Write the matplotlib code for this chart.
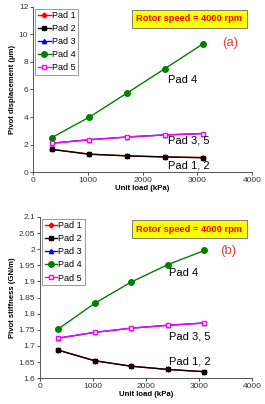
import matplotlib.pyplot as plt

load = [340, 1030, 1720, 2410, 3100]

disp_pad1 = [1.65, 1.30, 1.18, 1.10, 1.05]
disp_pad2 = [1.65, 1.30, 1.18, 1.10, 1.05]
disp_pad3 = [2.10, 2.35, 2.55, 2.70, 2.80]
disp_pad4 = [2.50, 4.00, 5.75, 7.52, 9.30]
disp_pad5 = [2.10, 2.35, 2.55, 2.70, 2.80]

stiff_pad1 = [1.687, 1.654, 1.637, 1.627, 1.620]
stiff_pad2 = [1.687, 1.654, 1.637, 1.627, 1.620]
stiff_pad3 = [1.724, 1.742, 1.755, 1.764, 1.771]
stiff_pad4 = [1.752, 1.832, 1.898, 1.952, 1.996]
stiff_pad5 = [1.724, 1.742, 1.755, 1.764, 1.771]

pads = ["Pad 1", "Pad 2", "Pad 3", "Pad 4", "Pad 5"]
styles = [dict(c='red', marker='D', ms=2.5, mfc='red'),
          dict(c='black', marker='s', ms=2.5, mfc='black'),
          dict(c='blue', marker='^', ms=3, mfc='blue'),
          dict(c='green', marker='o', ms=4, mfc='green'),
          dict(c='magenta', marker='s', ms=3, mfc='white')]

plt.rcParams['font.family'] = ['Liberation Sans', 'DejaVu Sans']
fig = plt.figure(figsize=(2.65, 4.04), dpi=100)
ax1 = fig.add_axes([0.125, 0.574, 0.826, 0.409])
ax2 = fig.add_axes([0.151, 0.064, 0.800, 0.399])


def draw(ax, series, ylim, yticks, ylabel, tag, tagpos, boxpos, labels):
    for name, y, st in zip(pads, series, styles):
        ax.plot(load, y, label=name, linewidth=1, zorder=3, **st)
    ax.set_xlim(0, 4000)
    ax.set_xticks([0, 1000, 2000, 3000, 4000])
    ax.set_ylim(*ylim)
    ax.set_yticks(yticks)
    ax.set_xlabel("Unit load (kPa)", fontsize=5.6, fontweight='bold', labelpad=1)
    ax.set_ylabel(ylabel, fontsize=5.6, fontweight='bold', labelpad=2)
    ax.tick_params(labelsize=6, length=2, width=0.6, pad=1.5, colors='#333333')
    for s in ['top', 'right']:
        ax.spines[s].set_visible(False)
    for s in ['left', 'bottom']:
        ax.spines[s].set_color('#555555')
        ax.spines[s].set_linewidth(0.7)
    leg = ax.legend(loc='upper left', bbox_to_anchor=(0.01, 0.99), fontsize=6.5,
                    fancybox=False, framealpha=1, edgecolor='#888888',
                    handlelength=1.4, handletextpad=0.1, borderpad=0.3,
                    labelspacing=0.45, borderaxespad=0)
    leg.get_frame().set_linewidth(0.6)
    ax.text(boxpos[0], boxpos[1], "Rotor speed = 4000 rpm", transform=ax.transAxes,
            ha='right', va='center', fontsize=6.7, fontweight='bold', color='red',
            bbox=dict(boxstyle='square,pad=0.5', fc='#ffff00', ec='#666666', lw=0.6))
    ax.text(tagpos[0], tagpos[1], tag, transform=ax.transAxes, ha='center', va='center',
            fontsize=9.5, color='#e04040')
    for x, y, t in labels:
        ax.text(x, y, t, fontsize=8, ha='left', va='center')


draw(ax1, [disp_pad1, disp_pad2, disp_pad3, disp_pad4, disp_pad5],
     (0, 12), range(0, 13, 2), "Pivot displacement (\u03bcm)", "(a)",
     (0.9, 0.78), (0.955, 0.927),
     [(2460, 6.7, "Pad 4"), (2460, 2.3, "Pad 3, 5"), (2460, 0.45, "Pad 1, 2")])
draw(ax2, [stiff_pad1, stiff_pad2, stiff_pad3, stiff_pad4, stiff_pad5],
     (1.6, 2.1), [1.6, 1.65, 1.7, 1.75, 1.8, 1.85, 1.9, 1.95, 2.0, 2.05, 2.1],
     "Pivot stiffness (GN/m)", "(b)", (0.887, 0.79), (0.955, 0.925),
     [(2430, 1.926, "Pad 4"), (2430, 1.73, "Pad 3, 5"), (2430, 1.653, "Pad 1, 2")])
ax2.set_yticklabels(["1.6", "1.65", "1.7", "1.75", "1.8", "1.85", "1.9", "1.95", "2", "2.05", "2.1"])

fig.savefig("out.png", dpi=100)
